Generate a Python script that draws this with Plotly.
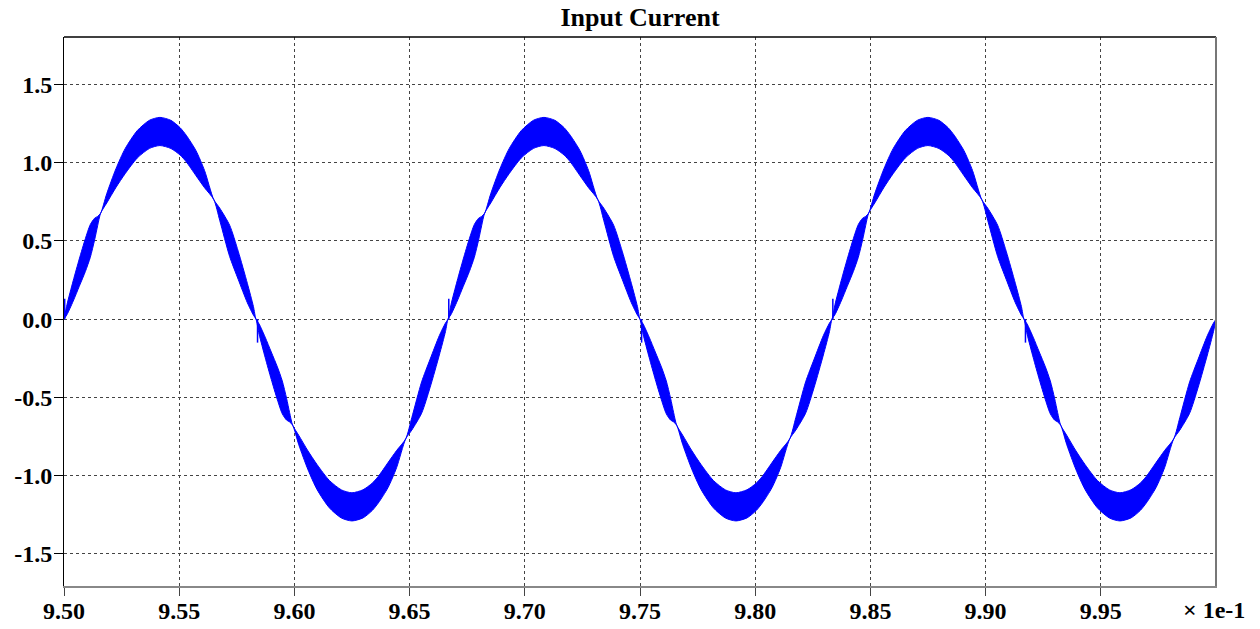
import plotly.graph_objects as go

# ---- data (time axis shown in units of 1e-1 s) ----
time_x = [
    9.50000, 9.50133, 9.50398, 9.50663, 9.50928, 9.51141, 9.51326, 9.51459, 9.51592, 9.51857, 9.52255, 9.52653, 9.53183,
    9.53714, 9.54165, 9.54642, 9.55040, 9.55305, 9.55730, 9.56101, 9.56499, 9.56764, 9.57189, 9.57560, 9.57958, 9.58223,
    9.58333, 9.58466, 9.58731, 9.58996, 9.59261, 9.59474, 9.59659, 9.59792, 9.59925, 9.60190, 9.60588, 9.60986, 9.61516,
    9.62047, 9.62498, 9.62975, 9.63373, 9.63638, 9.64063, 9.64434, 9.64832, 9.65097, 9.65522, 9.65893, 9.66291, 9.66556,
    9.66667, 9.66800, 9.67065, 9.67330, 9.67595, 9.67808, 9.67993, 9.68126, 9.68259, 9.68524, 9.68922, 9.69320, 9.69850,
    9.70381, 9.70832, 9.71309, 9.71707, 9.71972, 9.72397, 9.72768, 9.73166, 9.73431, 9.73856, 9.74227, 9.74625, 9.74890,
    9.75000, 9.75133, 9.75398, 9.75663, 9.75928, 9.76141, 9.76326, 9.76459, 9.76592, 9.76857, 9.77255, 9.77653, 9.78183,
    9.78714, 9.79165, 9.79642, 9.80040, 9.80305, 9.80730, 9.81101, 9.81499, 9.81764, 9.82189, 9.82560, 9.82958, 9.83223,
    9.83333, 9.83466, 9.83731, 9.83996, 9.84261, 9.84474, 9.84659, 9.84792, 9.84925, 9.85190, 9.85588, 9.85986, 9.86516,
    9.87047, 9.87498, 9.87975, 9.88373, 9.88638, 9.89063, 9.89434, 9.89832, 9.90097, 9.90522, 9.90893, 9.91291, 9.91556,
    9.91667, 9.91800, 9.92065, 9.92330, 9.92595, 9.92808, 9.92993, 9.93126, 9.93259, 9.93524, 9.93922, 9.94320, 9.94850,
    9.95381, 9.95832, 9.96309, 9.96707, 9.96972, 9.97397, 9.97768, 9.98166, 9.98431, 9.98856, 9.99227, 9.99625, 9.99890,
    10.00000,
]

current_upper = [
    0.000, 0.095, 0.245, 0.385, 0.515, 0.605, 0.645, 0.657, 0.678, 0.803, 0.962, 1.090, 1.206,
    1.272, 1.290, 1.271, 1.224, 1.176, 1.077, 0.950, 0.765, 0.709, 0.601, 0.435, 0.229, 0.080,
    0.000, -0.030, -0.115, -0.210, -0.305, -0.395, -0.505, -0.597, -0.678, -0.743, -0.842, -0.930, -1.031,
    -1.092, -1.110, -1.091, -1.049, -1.006, -0.917, -0.840, -0.765, -0.629, -0.401, -0.255, -0.105, -0.025,
    0.000, 0.095, 0.245, 0.385, 0.515, 0.605, 0.645, 0.657, 0.678, 0.803, 0.962, 1.090, 1.206,
    1.272, 1.290, 1.271, 1.224, 1.176, 1.077, 0.950, 0.765, 0.709, 0.601, 0.435, 0.229, 0.080,
    0.000, -0.030, -0.115, -0.210, -0.305, -0.395, -0.505, -0.597, -0.678, -0.743, -0.842, -0.930, -1.031,
    -1.092, -1.110, -1.091, -1.049, -1.006, -0.917, -0.840, -0.765, -0.629, -0.401, -0.255, -0.105, -0.025,
    0.000, 0.095, 0.245, 0.385, 0.515, 0.605, 0.645, 0.657, 0.678, 0.803, 0.962, 1.090, 1.206,
    1.272, 1.290, 1.271, 1.224, 1.176, 1.077, 0.950, 0.765, 0.709, 0.601, 0.435, 0.229, 0.080,
    0.000, -0.030, -0.115, -0.210, -0.305, -0.395, -0.505, -0.597, -0.678, -0.743, -0.842, -0.930, -1.031,
    -1.092, -1.110, -1.091, -1.049, -1.006, -0.917, -0.840, -0.765, -0.629, -0.401, -0.255, -0.105, -0.025,
    0.000,
]

current_lower = [
    0.000, 0.030, 0.115, 0.210, 0.305, 0.395, 0.505, 0.597, 0.678, 0.743, 0.842, 0.930, 1.031,
    1.092, 1.110, 1.091, 1.049, 1.006, 0.917, 0.840, 0.765, 0.629, 0.401, 0.255, 0.105, 0.025,
    0.000, -0.095, -0.245, -0.385, -0.515, -0.605, -0.645, -0.657, -0.678, -0.803, -0.962, -1.090, -1.206,
    -1.272, -1.290, -1.271, -1.224, -1.176, -1.077, -0.950, -0.765, -0.709, -0.601, -0.435, -0.229, -0.080,
    0.000, 0.030, 0.115, 0.210, 0.305, 0.395, 0.505, 0.597, 0.678, 0.743, 0.842, 0.930, 1.031,
    1.092, 1.110, 1.091, 1.049, 1.006, 0.917, 0.840, 0.765, 0.629, 0.401, 0.255, 0.105, 0.025,
    0.000, -0.095, -0.245, -0.385, -0.515, -0.605, -0.645, -0.657, -0.678, -0.803, -0.962, -1.090, -1.206,
    -1.272, -1.290, -1.271, -1.224, -1.176, -1.077, -0.950, -0.765, -0.709, -0.601, -0.435, -0.229, -0.080,
    0.000, 0.030, 0.115, 0.210, 0.305, 0.395, 0.505, 0.597, 0.678, 0.743, 0.842, 0.930, 1.031,
    1.092, 1.110, 1.091, 1.049, 1.006, 0.917, 0.840, 0.765, 0.629, 0.401, 0.255, 0.105, 0.025,
    0.000, -0.095, -0.245, -0.385, -0.515, -0.605, -0.645, -0.657, -0.678, -0.803, -0.962, -1.090, -1.206,
    -1.272, -1.290, -1.271, -1.224, -1.176, -1.077, -0.950, -0.765, -0.709, -0.601, -0.435, -0.229, -0.080,
    0.000,
]

# short switching spikes at the zero crossings
spike_x = [9.5003, 9.5840, 9.6670, 9.7507, 9.8337, 9.9173]
spike_y = [0.13, -0.15, 0.13, -0.15, 0.13, -0.15]

x_ticks = [9.50, 9.55, 9.60, 9.65, 9.70, 9.75, 9.80, 9.85, 9.90, 9.95]
y_ticks = [-1.5, -1.0, -0.5, 0.0, 0.5, 1.0, 1.5]

BLUE = "#0000FF"
FONT = "Liberation Serif"

fig = go.Figure()
fig.add_trace(go.Scatter(x=time_x, y=current_upper, mode="lines",
                         line=dict(color=BLUE, width=1.0, shape="spline", smoothing=0.7),
                         hoverinfo="skip", showlegend=False))
fig.add_trace(go.Scatter(x=time_x, y=current_lower, mode="lines", fill="tonexty",
                         fillcolor=BLUE,
                         line=dict(color=BLUE, width=1.0, shape="spline", smoothing=0.7),
                         showlegend=False))

sx, sy = [], []
for xv, yv in zip(spike_x, spike_y):
    sx += [xv, xv, None]
    sy += [0.0, yv, None]
fig.add_trace(go.Scatter(x=sx, y=sy, mode="lines", line=dict(color=BLUE, width=1.5),
                         hoverinfo="skip", showlegend=False))

fig.update_layout(
    width=1260, height=629,
    margin=dict(l=64, r=44, t=37, b=43, autoexpand=False),
    paper_bgcolor="white", plot_bgcolor="white",
    title=dict(text="<b>Input Current</b>", x=0.5, xref="paper", xanchor="center",
               y=1 - 17 / 629, yanchor="middle",
               font=dict(family=FONT, size=26, color="black")),
    font=dict(family=FONT, size=24, color="black"),
)

fig.update_xaxes(
    range=[9.50, 10.00], tickvals=x_ticks, ticktext=[f"<b>{v:.2f}</b>" for v in x_ticks],
    showgrid=True, gridcolor="#444", griddash="dot", gridwidth=1,
    showline=True, linecolor="#888", linewidth=2, mirror=False,
    ticks="outside", ticklen=8, tickcolor="#444", tickwidth=1, automargin=False,
    ticklabelstandoff=-6,
    tickfont=dict(family=FONT, size=24, color="black"), zeroline=False,
)
fig.update_yaxes(
    range=[-1.706, 1.804], tickvals=y_ticks, ticktext=[f"<b>{v:.1f}</b>" for v in y_ticks],
    showgrid=True, gridcolor="#444", griddash="dot", gridwidth=1,
    showline=True, linecolor="black", linewidth=1, mirror=True,
    ticks="outside", ticklen=9, tickcolor="black", tickwidth=1, automargin=False,
    ticklabelstandoff=-3,
    tickfont=dict(family=FONT, size=24, color="black"), zeroline=False,
)

# top border and right-edge shadow
fig.add_shape(type="line", xref="paper", yref="paper", x0=0, x1=1, y0=1, y1=1,
              line=dict(color="black", width=1.5))
fig.add_shape(type="line", xref="paper", yref="paper", x0=1, x1=1, y0=0, y1=1,
              line=dict(color="#777", width=2))

fig.add_annotation(text="<b>× 1e-1</b>", x=10.0, xref="x", y=0, yref="paper",
                   yshift=-24, xshift=-2, xanchor="center", yanchor="middle", showarrow=False,
                   font=dict(family=FONT, size=24, color="black"))

fig.write_html("out.html", config={"displayModeBar": False},
               post_script="document.body.style.margin='0px';")
